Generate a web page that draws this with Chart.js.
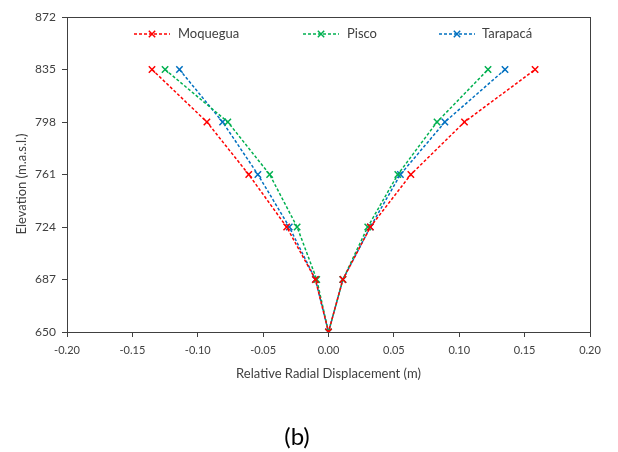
<!DOCTYPE html>
<html>
<head>
<meta charset="utf-8">
<script src="https://cdn.jsdelivr.net/npm/chart.js@4/dist/chart.umd.min.js"></script>
<style>
html,body{margin:0;padding:0;background:#fff;}
#wrap{width:618px;height:452px;position:relative;}
</style>
</head>
<body>
<div id="wrap"><canvas id="c" width="618" height="452"></canvas></div>
<script>
const elevations = [835, 798, 761, 724, 687, 650, 687, 724, 761, 798, 835];
const moquegua = [-0.135, -0.093, -0.061, -0.032, -0.010, 0, 0.011, 0.032, 0.063, 0.104, 0.158];
const pisco    = [-0.125, -0.077, -0.045, -0.024, -0.009, 0, 0.011, 0.030, 0.053, 0.083, 0.122];
const tarapaca = [-0.114, -0.081, -0.054, -0.030, -0.010, 0, 0.011, 0.032, 0.055, 0.089, 0.135];
const seriesNames = ['Moquegua', 'Pisco', 'Tarapacá'];
const yTicks = [650, 687, 724, 761, 798, 835, 872];
const xTicks = [-0.20, -0.15, -0.10, -0.05, 0.00, 0.05, 0.10, 0.15, 0.20];
const colors = ['#FF0000', '#00B050', '#0070C0'];

const FONT = 'Lato, "Open Sans", sans-serif';
const TEXT = '#404040';

function pts(xs){ return xs.map((x,i)=>({x:x, y:elevations[i]})); }

const allSeries = [moquegua, pisco, tarapaca];
const datasets = allSeries.map((s,i)=>({
  label: seriesNames[i],
  data: pts(s),
  showLine: true,
  borderColor: colors[i],
  backgroundColor: colors[i],
  borderWidth: 1.5,
  borderDash: [3,2],
  pointStyle: 'crossRot',
  pointRadius: 4.5,
  pointBorderWidth: 1.5,
  pointBorderColor: colors[i],
  fill: false,
  tension: 0
}));

// legend positions (symbol start x, text start x)
const legendSymX = [134, 303, 439];
const legendTxtX = [178, 347, 482];
const legendY = 34;

const decor = {
  id: 'decor',
  afterDatasetsDraw(chart){
    const a = chart.chartArea, g = chart.ctx;
    g.save();
    g.strokeStyle = TEXT; g.lineWidth = 1;
    g.strokeRect(Math.round(a.left)+0.5, Math.round(a.top)+0.5, Math.round(a.right-a.left), Math.round(a.bottom-a.top));
    g.restore();
  },
  afterDraw(chart){
    const g = chart.ctx;
    g.save();
    // legend
    chart.data.datasets.forEach((ds,i)=>{
      const x0 = legendSymX[i], w = 36, y = legendY;
      g.strokeStyle = ds.borderColor; g.lineWidth = 1.5;
      g.setLineDash([3,2]);
      g.beginPath(); g.moveTo(x0, y); g.lineTo(x0+w, y); g.stroke();
      g.setLineDash([]);
      const cx = x0 + w/2, r = 3.2;
      g.beginPath(); g.moveTo(cx-r, y-r); g.lineTo(cx+r, y+r); g.moveTo(cx+r, y-r); g.lineTo(cx-r, y+r); g.stroke();
      g.fillStyle = TEXT;
      g.font = '13px ' + FONT;
      g.textAlign = 'left'; g.textBaseline = 'middle';
      g.fillText(ds.label, legendTxtX[i], y);
    });
    // y-axis title
    g.save();
    g.translate(22, 184);
    g.rotate(-Math.PI/2);
    g.fillStyle = TEXT;
    g.font = '13px ' + FONT;
    g.textAlign = 'center'; g.textBaseline = 'middle';
    g.fillText('Elevation (m.a.s.l.)', 0, 0);
    g.restore();
    // panel label
    g.fillStyle = '#000';
    g.font = '24px ' + FONT;
    g.textAlign = 'center'; g.textBaseline = 'middle';
    g.fillText('(b)', 297, 437);
    g.restore();
  }
};

new Chart(document.getElementById('c'), {
  type: 'scatter',
  data: { datasets },
  plugins: [decor],
  options: {
    responsive: false,
    animation: false,
    layout: { padding: { left: 0, top: 17, right: 28, bottom: 70 } },
    plugins: {
      legend: { display: false },
      tooltip: { enabled: false }
    },
    scales: {
      x: {
        type: 'linear', min: -0.20, max: 0.20,
        afterBuildTicks(s){ s.ticks = xTicks.map(v=>({value:v})); },
        afterFit(s){ s.height = 50; },
        grid: { drawOnChartArea: false, drawTicks: true, tickLength: 5, color: TEXT },
        border: { color: TEXT },
        ticks: { color: TEXT, font: { family: FONT, size: 11 }, padding: 7, maxRotation: 0,
          callback: v => v.toFixed(2) },
        title: { display: true, text: 'Relative Radial Displacement (m)', color: TEXT,
          font: { family: FONT, size: 13 }, padding: { top: 1, bottom: 0 } }
      },
      y: {
        type: 'linear', min: 650, max: 872,
        afterBuildTicks(s){ s.ticks = yTicks.map(v=>({value:v})); },
        afterFit(s){ s.width = 67; },
        grid: { drawOnChartArea: false, drawTicks: true, tickLength: 5, color: TEXT },
        border: { color: TEXT },
        ticks: { color: TEXT, font: { family: FONT, size: 12 }, padding: 6,
          callback: v => String(v) }
      }
    }
  }
});
</script>
</body>
</html>
